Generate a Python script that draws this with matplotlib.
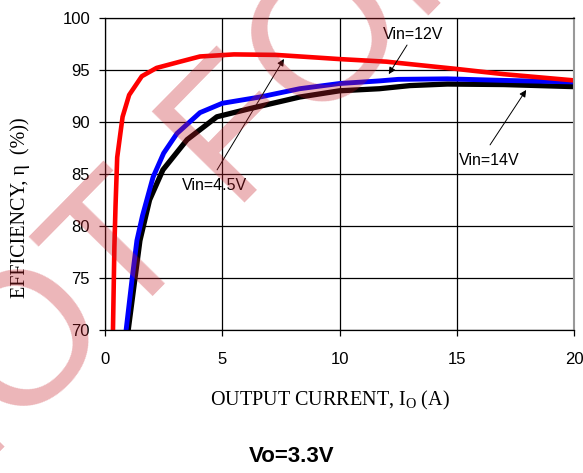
import matplotlib
matplotlib.use("Agg")
import matplotlib.pyplot as plt

plt.rcParams['mathtext.fontset'] = 'custom'
plt.rcParams['mathtext.rm'] = 'Liberation Serif'

# efficiency curves, Vo=3.3V
x_45 = [0.34, 0.40, 0.45, 0.52, 0.75, 1.03, 1.57, 2.2, 3.2, 4.05, 5.5, 7.3, 9.0, 10.0, 12.0, 15.0, 17.0, 20.0]
eff_45 = [70, 78.0, 82.0, 86.6, 90.5, 92.6, 94.4, 95.2, 95.8, 96.3, 96.5, 96.45, 96.2, 96.05, 95.8, 95.1, 94.6, 94.0]

x_12 = [0.9, 1.16, 1.36, 1.6, 2.05, 2.5, 3.07, 4.05, 5.0, 6.6, 8.3, 10.0, 11.7, 12.5, 14.6, 17.0, 20.0]
eff_12 = [70, 75, 78.6, 81.0, 84.7, 87.0, 88.9, 90.9, 91.8, 92.4, 93.2, 93.7, 93.95, 94.1, 94.15, 94.0, 93.85]

x_14 = [0.99, 1.28, 1.49, 1.9, 2.47, 3.5, 4.77, 6.2, 8.3, 10.0, 11.7, 13.0, 14.6, 17.0, 20.0]
eff_14 = [70, 75, 78.6, 82.5, 85.4, 88.3, 90.5, 91.3, 92.4, 93.0, 93.2, 93.5, 93.65, 93.6, 93.4]

x_ticks = [0, 5, 10, 15, 20]
y_ticks = [70, 75, 80, 85, 90, 95, 100]

fig = plt.figure(figsize=(5.83, 4.73), dpi=100)
ax = fig.add_axes([105/583, 1-330/473, 469/583, 312/473])

ax.plot(x_14, eff_14, color='black', lw=3.8, solid_joinstyle='round')
ax.plot(x_12, eff_12, color='#0000ff', lw=3.5, solid_joinstyle='round')
ax.plot(x_45, eff_45, color='#ff0000', lw=3.3, solid_joinstyle='round')

ax.set_xlim(0, 20)
ax.set_ylim(70, 100)
ax.set_xticks(x_ticks)
ax.set_yticks(y_ticks)
ax.grid(True, color='black', lw=0.9)
ax.set_axisbelow(True)
for lab in ax.get_xticklabels() + ax.get_yticklabels():
    lab.set_fontfamily('Liberation Sans')
    lab.set_fontsize(12)
ax.tick_params(axis='x', length=4.3, width=0.9, pad=11.5)
ax.tick_params(axis='y', length=4.3, width=0.9, pad=6.5)
ax.spines['right'].set_color('#999999')
ax.spines['right'].set_linewidth(1.5)
for s in ['left', 'bottom', 'top']:
    ax.spines[s].set_linewidth(0.9)

# annotations: arrow tail/head, then label
arrow = dict(arrowstyle='-|>', lw=0.7, color='black', mutation_scale=10, shrinkA=0, shrinkB=0)
ax.annotate('', xy=(7.63, 96.06), xytext=(4.78, 85.4), arrowprops=arrow)
ax.annotate('', xy=(12.1, 94.6), xytext=(12.88, 97.4), arrowprops=arrow)
ax.annotate('', xy=(17.96, 93.08), xytext=(16.42, 87.8), arrowprops=arrow)
ax.text(4.69, 83.94, 'Vin=4.5V', fontsize=11.5, family='Liberation Sans', ha='center', va='center')
ax.text(13.13, 98.37, 'Vin=12V', fontsize=11.5, family='Liberation Sans', ha='center', va='center')
ax.text(16.38, 86.3, 'Vin=14V', fontsize=11.5, family='Liberation Sans', ha='center', va='center')

fig.text(20/583, 1-208/473, 'EFFICIENCY, η  (%))', rotation=90, ha='center', va='center',
         fontsize=14.5, family='Liberation Serif')
fig.text(330/583, 1-400/473, r'OUTPUT CURRENT, $\mathrm{I_O}$ (A)', ha='center', va='center',
         fontsize=14.5, family='Liberation Serif')
fig.text(292/583, 1-456/473, 'Vo=3.3V', ha='center', va='center', fontsize=16,
         fontweight='bold', family='Liberation Sans')

# pink watermark
fig.text(-79/583, 1-533/473, 'NOT FOR NEW DESIGN', rotation=45.5, rotation_mode='anchor',
         ha='left', va='baseline', fontsize=136, family='Liberation Sans',
         color=(0.78, 0.12, 0.16), alpha=0.33, zorder=10)

fig.savefig('out.png', dpi=100)
